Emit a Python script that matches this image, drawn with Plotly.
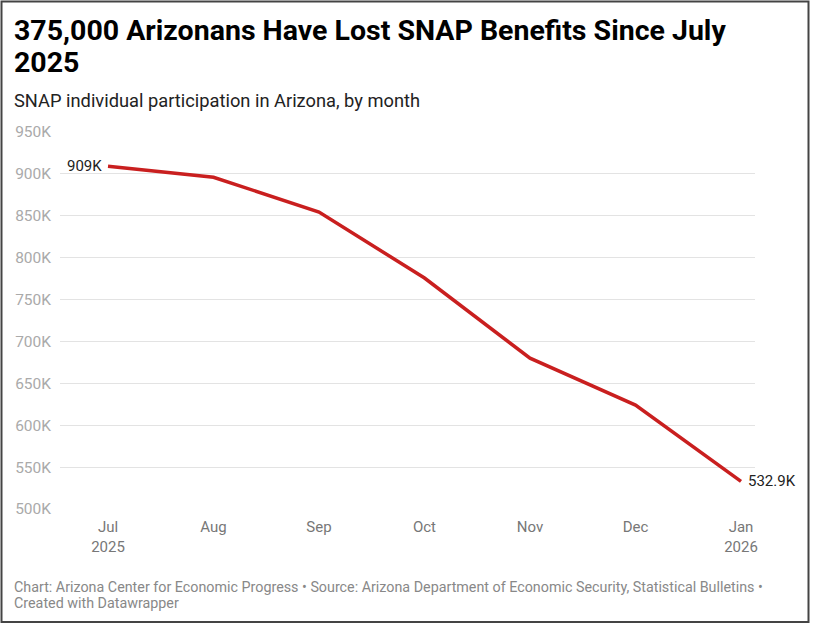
import plotly.graph_objects as go

months = ["Jul<br>2025", "Aug", "Sep", "Oct", "Nov", "Dec", "Jan<br>2026"]
participants = [909000, 896000, 854500, 775700, 680000, 624000, 532900]
y_ticks = [500000, 550000, 600000, 650000, 700000, 750000, 800000, 850000, 900000, 950000]
y_tick_labels = ["500K", "550K", "600K", "650K", "700K", "750K", "800K", "850K", "900K", "950K"]
first_label = "909K"
last_label = "532.9K"
title_lines = ["375,000 Arizonans Have Lost SNAP Benefits Since July", "2025"]
subtitle = "SNAP individual participation in Arizona, by month"
footer_lines = ["Chart: Arizona Center for Economic Progress • Source: Arizona Department of Economic Security, Statistical Bulletins •",
                "Created with Datawrapper"]

x_idx = list(range(len(months)))

W, H = 813, 625
ml, mr, mt, mb = 60, 58, 132, 116
pw, ph = W - ml - mr, H - mt - mb

def px_x(p):
    return (p - ml) / pw

def px_y(p):
    return (H - mb - p) / ph

fig = go.Figure()
fig.add_trace(go.Scatter(
    x=x_idx, y=participants, mode="lines",
    line=dict(color="#c91f1f", width=3.5),
    hoverinfo="skip", showlegend=False,
))

fig.add_annotation(x=x_idx[0], y=participants[0], text=first_label, showarrow=False,
                   xanchor="right", yanchor="middle", xshift=-4,
                   font=dict(family="Roboto", size=15, color="#222"))
fig.add_annotation(x=x_idx[-1], y=participants[-1], text=last_label, showarrow=False,
                   xanchor="left", yanchor="middle", xshift=5,
                   font=dict(family="Roboto", size=15, color="#222"))

# Title / subtitle / footer
for line, yc in zip(title_lines, [31, 63]):
    fig.add_annotation(xref="paper", yref="paper", x=px_x(12), y=px_y(yc), xanchor="left", yanchor="middle",
                       text="<b>" + line + "</b>", showarrow=False, align="left",
                       font=dict(family="Roboto", size=28.5, color="#000"))
fig.add_annotation(xref="paper", yref="paper", x=px_x(12), y=px_y(100), xanchor="left", yanchor="middle",
                   text=subtitle, showarrow=False, align="left",
                   font=dict(family="Roboto", size=18.3, color="#222"))
for line, yc in zip(footer_lines, [587, 603]):
    fig.add_annotation(xref="paper", yref="paper", x=px_x(12), y=px_y(yc), xanchor="left", yanchor="middle",
                       text=line, showarrow=False, align="left",
                       font=dict(family="Roboto", size=14.3, color="#888"))

# frame border
fig.add_shape(type="rect", xref="paper", yref="paper",
              x0=px_x(1.5), x1=px_x(808.5), y0=px_y(622), y1=px_y(1.5),
              line=dict(color="#444", width=2), fillcolor="rgba(0,0,0,0)", layer="below")

fig.update_layout(
    width=W, height=H,
    margin=dict(l=ml, r=mr, t=mt, b=mb),
    paper_bgcolor="white", plot_bgcolor="white",
    xaxis=dict(
        range=[(60 - 108) / 105.5, 6 + (755 - 741) / 105.5],
        tickmode="array", tickvals=x_idx, ticktext=months,
        showgrid=False, zeroline=False, showline=False, ticks="",
        tickfont=dict(family="Roboto", size=15, color="#777"),
        ticklabelstandoff=7,
        fixedrange=True,
    ),
    yaxis=dict(
        range=[500000, 950000],
        tickmode="array", tickvals=y_ticks, ticktext=y_tick_labels,
        showgrid=True, gridcolor="#e3e3e3", gridwidth=1,
        zeroline=False, showline=False, ticks="",
        tickfont=dict(family="Roboto", size=15.5, color="#aaa"),
        ticklabelstandoff=8,
        fixedrange=True,
    ),
)

fig.write_html("out.html", config={"displayModeBar": False},
               post_script="document.body.style.margin='0px';document.body.style.overflow='hidden';")
